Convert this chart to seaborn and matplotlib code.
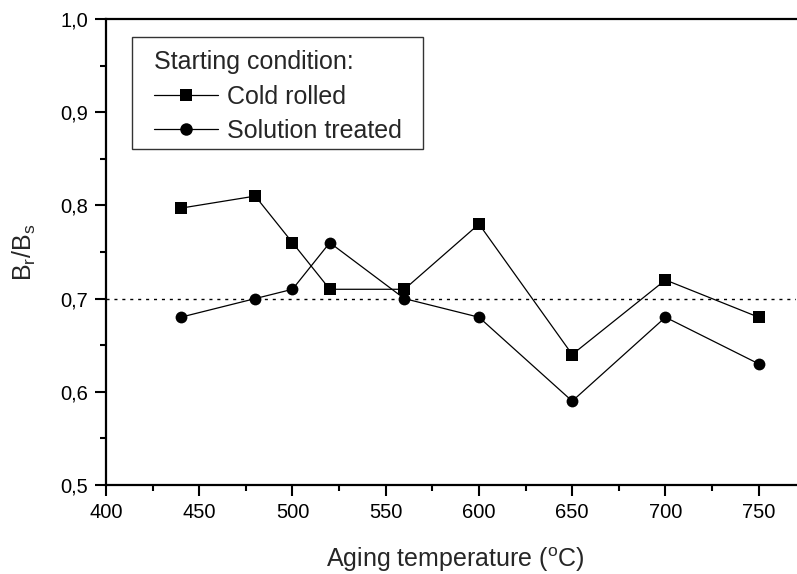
import matplotlib
matplotlib.use("Agg")
import matplotlib.pyplot as plt
import seaborn as sns
import pandas as pd
from matplotlib.path import Path
from matplotlib.ticker import MultipleLocator, FuncFormatter

sns.set_theme(style="ticks")
plt.rcParams["font.family"] = ["Liberation Sans", "DejaVu Sans"]

# Aging temperatures (°C) and remanence ratios
temperature = [440, 480, 500, 520, 560, 600, 650, 700, 750]
cold_rolled = [0.797, 0.81, 0.76, 0.71, 0.71, 0.78, 0.64, 0.72, 0.68]
solution_treated = [0.68, 0.70, 0.71, 0.76, 0.70, 0.68, 0.59, 0.68, 0.63]
series_names = ["Cold rolled", "Solution treated"]
reference_level = 0.70

df = pd.concat([
    pd.DataFrame({"T": temperature, "ratio": cold_rolled, "cond": series_names[0]}),
    pd.DataFrame({"T": temperature, "ratio": solution_treated, "cond": series_names[1]}),
])

fig = plt.figure(figsize=(7.97, 5.74), dpi=100)
ax = fig.add_axes([106 / 797, 1 - 485 / 574, 690 / 797, 466 / 574])

sns.lineplot(data=df, x="T", y="ratio", hue="cond", style="cond",
             markers={series_names[0]: "s", series_names[1]: "o"},
             dashes=False, palette=["black", "black"], linewidth=0.9,
             markersize=8.5, markeredgewidth=0, ax=ax, sort=False)

ax.axhline(reference_level, color="black", linestyle=(0, (2.2, 3.5)), linewidth=1.0, zorder=0)

ax.set_xlim(400, 770)
ax.set_ylim(0.5, 1.0)
ax.xaxis.set_major_locator(MultipleLocator(50))
ax.xaxis.set_minor_locator(MultipleLocator(25))
ax.yaxis.set_major_locator(MultipleLocator(0.1))
ax.yaxis.set_minor_locator(MultipleLocator(0.05))
ax.yaxis.set_major_formatter(FuncFormatter(lambda v, p: f"{v:.1f}".replace(".", ",")))

for s in ["left", "bottom", "top"]:
    ax.spines[s].set_linewidth(1.6)
    ax.spines[s].set_color("black")
ax.spines["right"].set_visible(False)

ax.tick_params(which="major", direction="out", length=8, width=1.5, labelsize=14.5,
               colors="black", pad=5)
ax.tick_params(which="minor", direction="out", length=4.5, width=1.5, colors="black")

ax.set_xlabel("Aging temperature ($\\mathregular{^{o}}$C)", fontsize=18)
ax.set_ylabel("B$\\mathregular{_r}$/B$\\mathregular{_s}$", fontsize=18)
ax.xaxis.set_label_coords(0.506, -0.13)
ax.yaxis.set_label_coords(-0.098, 0.5)

handles, labels = ax.get_legend_handles_labels()
for h in handles:
    h.set_markersize(9)
leg = ax.legend(handles, labels, title="Starting condition:", loc="upper left",
                bbox_to_anchor=(0.0623, 0.9442), fontsize=18, title_fontsize=18,
                frameon=True, fancybox=False, edgecolor="black", borderpad=0.2,
                handlelength=2.56, handletextpad=0.36, labelspacing=0.42,
                borderaxespad=0)
leg._legend_box.align = "left"


def legend_frame(x0, y0, width, height, mutation_size):
    """Rectangle with wider side margins than top/bottom margins."""
    px = 0.66 * mutation_size
    pt = 0.32 * mutation_size
    pb = 0.04 * mutation_size
    left, right = x0 - px, x0 + width + px
    bottom, top = y0 - pb, y0 + height + pt
    return Path([(left, bottom), (right, bottom), (right, top), (left, top), (left, bottom)],
                closed=True)


frame = leg.get_frame()
frame.set_boxstyle(legend_frame)
frame.set_linewidth(1.0)

fig.savefig("out.png", dpi=100)
